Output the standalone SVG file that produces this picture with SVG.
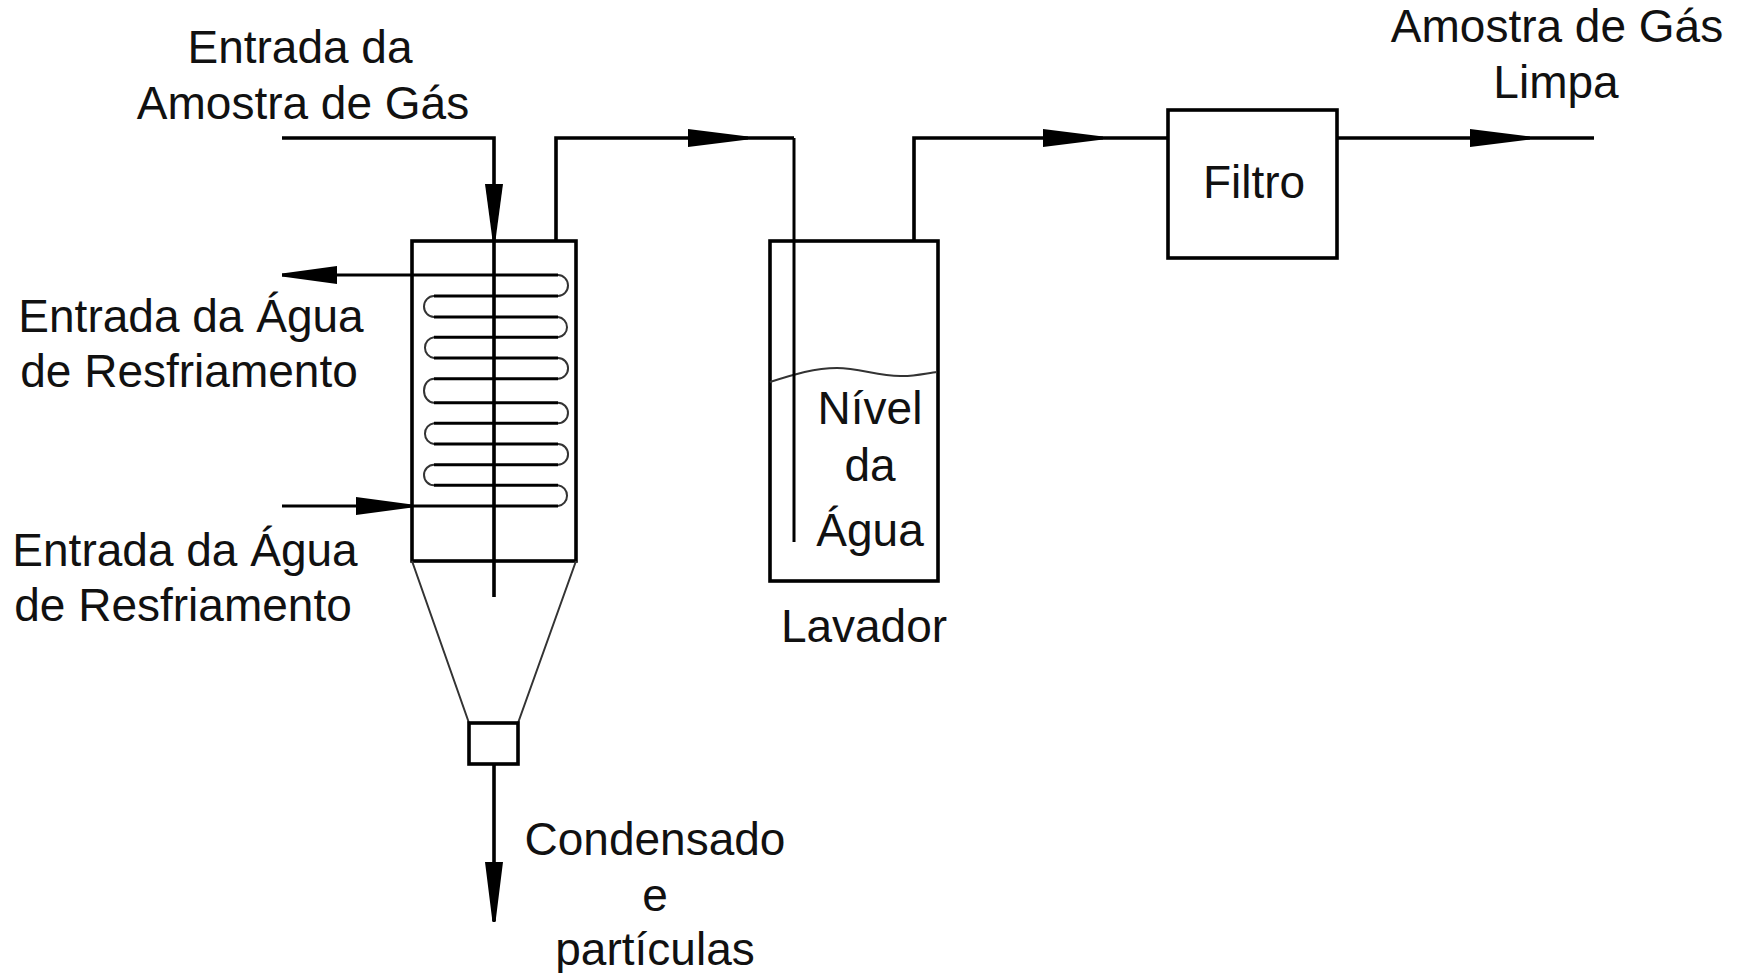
<svg xmlns="http://www.w3.org/2000/svg" width="1744" height="973" viewBox="0 0 1744 973">
<style>
.l{fill:none;stroke:#000;stroke-width:3.600}
.t{fill:none;stroke:#000;stroke-width:3}
.c{fill:none;stroke:#333;stroke-width:2}
.a{fill:#000;stroke:none}
text{font-family:"Liberation Sans",Arial,sans-serif;font-size:46px;fill:#111}
.m{text-anchor:middle}
</style>
<rect width="1744" height="973" fill="#fff"/>
<g id="condenser">
<rect class="l" x="412" y="241" width="164" height="320"/>
<path class="c" d="M412 561L469 723M576 561L518 723"/>
<path id="coil" class="t" d="M282 275H558M558 296H434M434 317H558M558 337.300H434M434 358H558M558 378.700H434M434 402.700H558M558 423.300H434M434 444H558M558 464.700H434M434 485.300H558M558 506H282"/>
<path id="coil-bends" class="c" d="M558 275A10 10.500 0 0 1 558 296M434 296A10 10.500 0 0 0 434 317M558 317A10 10.200 0 0 1 558 337.300M434 337.300A10 10.400 0 0 0 434 358M558 358A10 10.300 0 0 1 558 378.700M434 378.700A10 12 0 0 0 434 402.700M558 402.700A10 10.300 0 0 1 558 423.300M434 423.300A10 10.400 0 0 0 434 444M558 444A10 10.300 0 0 1 558 464.700M434 464.700A10 10.300 0 0 0 434 485.300M558 485.300A10 10.400 0 0 1 558 506"/>
</g>
<g id="drain"><rect class="l" x="469" y="723" width="49" height="41"/></g>
<g id="scrubber">
<rect class="l" x="770" y="241" width="168" height="340"/>
<path fill="none" stroke="#333" stroke-width="2" d="M770 382C795 374 815 368 837 368C860 368 880 377 903 376C915 376 928 373 937 372"/>
</g>
<g id="filter"><rect class="l" x="1168" y="110" width="169" height="148"/></g>
<g id="connectors">
<path class="l" d="M282 138H494V597"/>
<path class="l" d="M556 241V138H794"/>
<path class="t" d="M794 138V542"/>
<path class="l" d="M914 241V138H1168"/>
<path class="l" d="M1337 138H1594"/>
<path class="l" d="M494 764V921"/>
<path class="a" d="M485 184H503L495.500 240H492.500Z"/>
<path class="a" d="M688 129V147L748 139.500V136.500Z"/>
<path class="a" d="M1043 129V147L1103 139.500V136.500Z"/>
<path class="a" d="M1470 129V147L1530 139.500V136.500Z"/>
<path class="a" d="M337 266V284L282 276.500V273.500Z"/>
<path class="a" d="M356 497V515L412 507.500V504.500Z"/>
<path class="a" d="M485 862H503L495.500 922H492.500Z"/>
</g>
<g id="labels">
<text class="m" x="300" y="63">Entrada da</text>
<text class="m" x="303" y="119">Amostra de Gás</text>
<text class="m" x="1557" y="42">Amostra de Gás</text>
<text class="m" x="1556" y="98">Limpa</text>
<text class="m" x="1254" y="198">Filtro</text>
<text class="m" x="191" y="332">Entrada da Água</text>
<text class="m" x="189" y="387">de Resfriamento</text>
<text class="m" x="185" y="566">Entrada da Água</text>
<text class="m" x="183" y="621">de Resfriamento</text>
<text class="m" x="870" y="424">Nível</text>
<text class="m" x="870" y="481">da</text>
<text class="m" x="870" y="546">Água</text>
<text class="m" x="864" y="642">Lavador</text>
<text class="m" x="655" y="855">Condensado</text>
<text class="m" x="655" y="911">e</text>
<text class="m" x="655" y="965">partículas</text>
</g>
</svg>
